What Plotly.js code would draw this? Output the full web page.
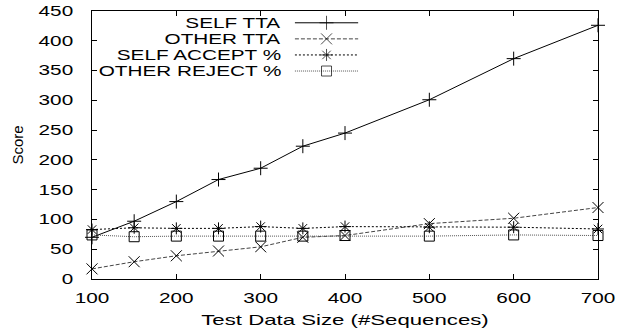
<!DOCTYPE html>
<html>
<head>
<meta charset="utf-8">
<script src="https://cdn.plot.ly/plotly-3.0.1.min.js"></script>
<style>html,body{margin:0;padding:0;background:#fff}#chart{width:617px;height:332px}</style>
</head>
<body>
<div id="chart"></div>
<script>
// ---- data ----
const testSizes = [100, 150, 200, 250, 300, 350, 400, 500, 600, 700];
const selfTTA = [70, 97, 130, 167, 186, 223, 245, 301, 370, 426];
const otherTTA = [17, 29, 39, 47, 54, 70, 73, 93, 102, 120];
const selfAccept = [83, 86, 85, 85, 88, 85, 88, 87, 87, 84];
const otherReject = [74, 71, 72, 72, 72, 72, 73, 72, 74, 73];
const seriesNames = ["SELF TTA", "OTHER TTA", "SELF ACCEPT %", "OTHER REJECT %"];

// ---- styles ----
const styles = [
  {line: {color: '#000', width: 1, dash: 'solid'}, marker: {symbol: 'cross-thin-open', size: 10, color: '#000', line: {color: '#000', width: 1}}},
  {line: {color: '#444', width: 1, dash: '4px,2px'}, marker: {symbol: 'x-thin-open', size: 11, color: '#000', line: {color: '#000', width: 1}}},
  {line: {color: '#000', width: 1, dash: '2px,2px'}, marker: {symbol: 'asterisk-open', size: 10, color: '#000', line: {color: '#000', width: 1}}},
  {line: {color: '#555', width: 1, dash: '1px,1px'}, marker: {symbol: 'square-open', size: 10, color: '#000', line: {color: '#000', width: 1}}}
];
const values = [selfTTA, otherTTA, selfAccept, otherReject];

const traces = values.map((v, i) => ({
  type: 'scatter', mode: 'lines+markers', x: testSizes, y: v, name: seriesNames[i],
  line: styles[i].line, marker: styles[i].marker, showlegend: false, cliponaxis: false
}));

// gnuplot-style key: text right-aligned, sample on the right
const key = {textX: 0.377, x0: 0.401, x1: 0.526, rows: [0.956, 0.896, 0.836, 0.776]};
seriesNames.forEach((n, i) => {
  traces.push({
    type: 'scatter', mode: 'lines+markers', xaxis: 'x2', yaxis: 'y2',
    x: [key.x0, (key.x0 + key.x1) / 2, key.x1], y: [key.rows[i], key.rows[i], key.rows[i]],
    line: styles[i].line,
    marker: Object.assign({}, styles[i].marker, {size: [0, styles[i].marker.size, 0]}),
    showlegend: false, hoverinfo: 'skip', cliponaxis: false
  });
});

const font = {family: 'Liberation Sans, Arial, sans-serif', color: '#000'};
const layout = {
  width: 617, height: 332,
  margin: {l: 92, r: 19, t: 11, b: 53},
  paper_bgcolor: '#fff', plot_bgcolor: '#fff',
  font: Object.assign({}, font, {size: 14}),
  showlegend: false,
  xaxis: {
    range: [100, 700], dtick: 100, tick0: 100, ticks: 'inside', ticklen: 5, tickcolor: '#000',
    showline: true, linecolor: '#000', linewidth: 1, mirror: 'ticks', showgrid: false, zeroline: false,
    tickfont: Object.assign({}, font, {size: 14}), ticklabelstandoff: 6,
    title: {text: 'Test Data Size (#Sequences)', font: Object.assign({}, font, {size: 15}), standoff: 9}
  },
  yaxis: {
    range: [0, 450], dtick: 50, ticks: 'inside', ticklen: 5, tickcolor: '#000',
    showline: true, linecolor: '#000', linewidth: 1, mirror: 'ticks', showgrid: false, zeroline: false,
    tickfont: Object.assign({}, font, {size: 14}), ticklabelstandoff: 15,
    title: {text: 'Score', font: Object.assign({}, font, {size: 15}), standoff: 22}
  },
  xaxis2: {overlaying: 'x', range: [0, 1], visible: false, fixedrange: true},
  yaxis2: {overlaying: 'y', range: [0, 1], visible: false, fixedrange: true},
  annotations: seriesNames.map((n, i) => ({
    text: n, xref: 'paper', yref: 'paper', x: key.textX, y: key.rows[i],
    xanchor: 'right', yanchor: 'middle', showarrow: false,
    font: Object.assign({}, font, {size: 14})
  }))
};

// the reference's lettering is wide: widen horizontal texts
// (key labels are middle-anchored inside their box, so move them to keep the right edge fixed)
const textStretch = 1.48;
Plotly.newPlot('chart', traces, layout, {staticPlot: true, displayModeBar: false}).then(gd => {
  gd.querySelectorAll('svg text').forEach(t => {
    if (t.classList.contains('ytitle')) return;
    const w = t.getComputedTextLength();
    if (!w) return;
    t.setAttribute('lengthAdjust', 'spacingAndGlyphs');
    t.setAttribute('textLength', (w * textStretch).toFixed(1));
    if (t.classList.contains('annotation-text')) {
      const x = parseFloat(t.getAttribute('x') || '0');
      t.setAttribute('x', (x - w * (textStretch - 1) / 2).toFixed(1));
    }
  });
});
</script>
</body>
</html>
